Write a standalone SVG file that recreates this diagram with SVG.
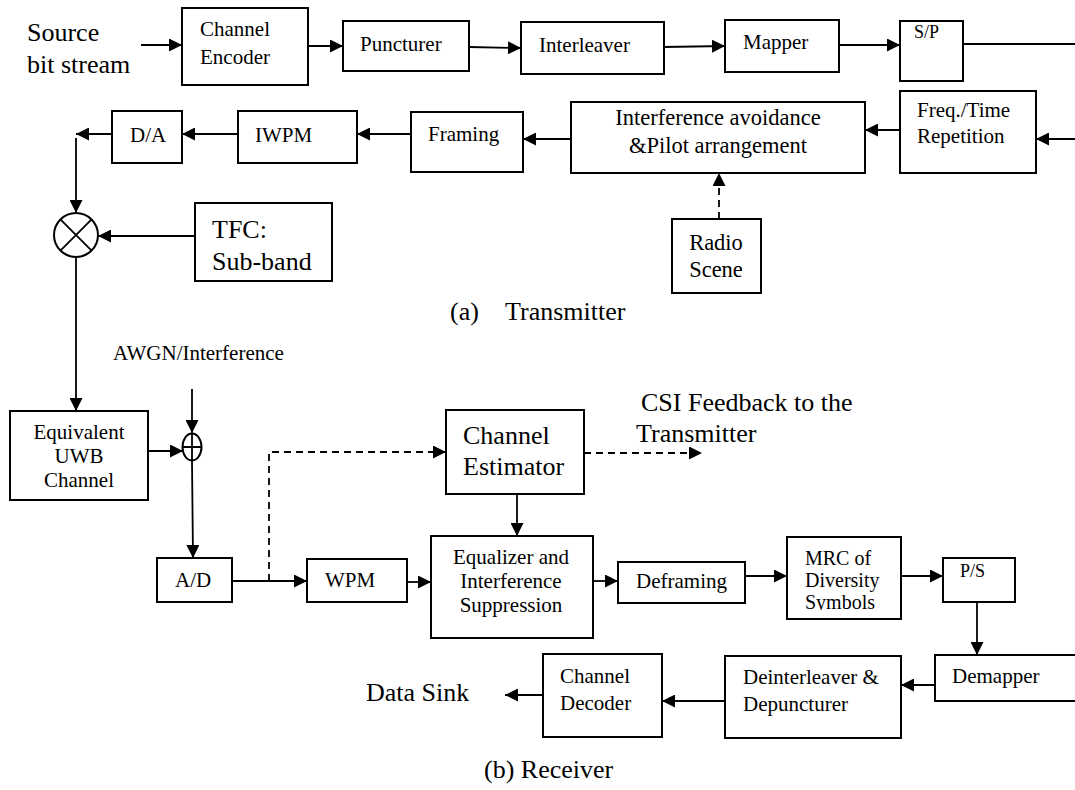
<svg xmlns="http://www.w3.org/2000/svg" width="1075" height="790" viewBox="0 0 1075 790">
<defs>
<marker id="ah" markerUnits="userSpaceOnUse" markerWidth="14" markerHeight="13" refX="13" refY="6.5" orient="auto"><path d="M0,0 L13,6.5 L0,13 z" fill="#000"/></marker>
<clipPath id="mrcclip"><rect x="788" y="538" width="112" height="72"/></clipPath>
</defs>
<style>
rect.b{fill:#fff;stroke:#000;stroke-width:2}
text{font-family:"Liberation Serif","Times New Roman",serif;fill:#000}
.f21{font-size:21px}
.f20{font-size:20px}
.f18{font-size:18px}
.f26{font-size:26px}
.f22{font-size:22.5px}
.c{text-anchor:middle}
.ln{fill:none;stroke:#000;stroke-width:1.8}
.ar{fill:none;stroke:#000;stroke-width:1.8;marker-end:url(#ah)}
.dar{fill:none;stroke:#000;stroke-width:1.8;stroke-dasharray:7,5;marker-end:url(#ah)}
</style>
<rect width="1075" height="790" fill="#fff"/>
<g id="connectors">
<path class="ar" d="M141,45 L182,45"/>
<path class="ar" d="M308,46 L343,46"/>
<path class="ar" d="M469,47 L521,48"/>
<path class="ar" d="M664,47 L725,46"/>
<path class="ar" d="M839,45 L900,45"/>
<path class="ln" d="M963,44 L1075,44"/>
<path class="ar" d="M1075,139 L1036,139"/>
<path class="ar" d="M900,130 L865,130"/>
<path class="dar" d="M719,219 L719,173"/>
<path class="ar" d="M571,139 L523,139"/>
<path class="ar" d="M411,134 L357,134"/>
<path class="ar" d="M238,134 L182,134"/>
<path class="ar" d="M112,134 L76,134"/>
<path class="ar" d="M76,138 L76,213"/>
<path class="ar" d="M195,236 L98,236"/>
<path class="ar" d="M76,257 L76,411"/>
<path class="ar" d="M192,389 L192,433"/>
<path class="ar" d="M148,451 L183,451"/>
<path class="ar" d="M192,461 L193,558"/>
<path class="ar" d="M232,581 L307,581"/>
<path class="dar" d="M269,581 L269,452 L446,452"/>
<path class="dar" d="M584,453 L702,453"/>
<path class="ar" d="M407,582 L431,582"/>
<path class="ar" d="M517,494 L517,536"/>
<path class="ar" d="M593,581 L618,581"/>
<path class="ar" d="M745,576 L787,576"/>
<path class="ar" d="M901,576 L943,576"/>
<path class="ar" d="M977,602 L977,655"/>
<path class="ar" d="M935,685 L901,685"/>
<path class="ar" d="M725,701 L662,701"/>
<path class="ar" d="M543,695 L505,695"/>
</g>
<g id="source"><text class="f26" x="27" y="41">Source</text><text class="f26" x="27" y="73">bit stream</text></g>
<g id="channel-encoder"><rect class="b" x="182" y="8" width="126" height="77"/><text class="f21" x="200" y="36">Channel</text><text class="f21" x="200" y="64">Encoder</text></g>
<g id="puncturer"><rect class="b" x="343" y="21" width="126" height="50"/><text class="f21" x="360" y="51">Puncturer</text></g>
<g id="interleaver"><rect class="b" x="521" y="22" width="143" height="52"/><text class="f21" x="539" y="52">Interleaver</text></g>
<g id="mapper"><rect class="b" x="725" y="20" width="114" height="52"/><text class="f21" x="743" y="49">Mapper</text></g>
<g id="sp"><rect class="b" x="900" y="21" width="63" height="60"/><text class="f18" x="914" y="38">S/P</text></g>
<g id="freq-time"><rect class="b" x="900" y="91" width="136" height="82"/><text class="f21" x="917" y="117">Freq./Time</text><text class="f21" x="917" y="143">Repetition</text></g>
<g id="interference-avoidance"><rect class="b" x="571" y="102" width="294" height="71"/><text class="f22 c" x="718" y="125">Interference avoidance</text><text class="f22 c" x="718" y="153">&amp;Pilot arrangement</text></g>
<g id="radio-scene"><rect class="b" x="672" y="219" width="89" height="74"/><text class="f22 c" x="716" y="250">Radio</text><text class="f22 c" x="716" y="277">Scene</text></g>
<g id="framing"><rect class="b" x="411" y="112" width="112" height="60"/><text class="f21" x="428" y="141">Framing</text></g>
<g id="iwpm"><rect class="b" x="238" y="111" width="119" height="52"/><text class="f21" x="255" y="142">IWPM</text></g>
<g id="da"><rect class="b" x="112" y="111" width="70" height="52"/><text class="f21" x="130" y="142">D/A</text></g>
<g id="mixer"><circle cx="76" cy="235" r="22" fill="#fff" stroke="#000" stroke-width="2"/><path class="ln" d="M60.4,219.4 L91.6,250.6 M91.6,219.4 L60.4,250.6"/></g>
<g id="tfc"><rect class="b" x="195" y="203" width="137" height="78"/><text class="f26" x="212" y="238">TFC:</text><text class="f26" x="212" y="270">Sub-band</text></g>
<g id="label-a"><text class="f26" x="450" y="320">(a)</text><text class="f26" x="505" y="320">Transmitter</text></g>
<g id="awgn"><text class="f21" x="113" y="360">AWGN/Interference</text></g>
<g id="equivalent-channel"><rect class="b" x="10" y="411" width="138" height="89"/><text class="f21 c" x="79" y="439">Equivalent</text><text class="f21 c" x="79" y="463">UWB</text><text class="f21 c" x="79" y="487">Channel</text></g>
<g id="adder"><ellipse cx="192" cy="447" rx="9.5" ry="13.5" fill="#fff" stroke="#000" stroke-width="2"/><path class="ln" d="M182.5,447 L201.5,447 M192,433.5 L192,460.5"/></g>
<g id="ad"><rect class="b" x="157" y="558" width="75" height="44"/><text class="f21" x="175" y="587">A/D</text></g>
<g id="wpm"><rect class="b" x="307" y="559" width="100" height="43"/><text class="f21" x="325" y="587">WPM</text></g>
<g id="channel-estimator"><rect class="b" x="446" y="410" width="138" height="84"/><text class="f26" x="463" y="444">Channel</text><text class="f26" x="463" y="475">Estimator</text></g>
<g id="csi"><text class="f26" x="641" y="411">CSI Feedback to the</text><text class="f26" x="636" y="442">Transmitter</text></g>
<g id="equalizer"><rect class="b" x="431" y="536" width="162" height="102"/><text class="f21 c" x="511" y="564">Equalizer and</text><text class="f21 c" x="511" y="588">Interference</text><text class="f21 c" x="511" y="612">Suppression</text></g>
<g id="deframing"><rect class="b" x="618" y="562" width="127" height="41"/><text class="f21" x="636" y="588">Deframing</text></g>
<g id="mrc"><rect class="b" x="787" y="537" width="114" height="82"/><g clip-path="url(#mrcclip)"><text class="f20" x="805" y="565">MRC of</text><text class="f20" x="805" y="587">Diversity</text><text class="f20" x="805" y="609">Symbols</text></g></g>
<g id="ps"><rect class="b" x="943" y="558" width="72" height="44"/><text class="f18" x="960" y="577">P/S</text></g>
<g id="demapper"><rect class="b" x="935" y="655" width="150" height="46"/><text class="f21" x="952" y="683">Demapper</text></g>
<g id="deinterleaver"><rect class="b" x="725" y="656" width="176" height="82"/><text class="f21" x="743" y="684">Deinterleaver &amp;</text><text class="f21" x="743" y="711">Depuncturer</text></g>
<g id="channel-decoder"><rect class="b" x="543" y="654" width="119" height="83"/><text class="f21" x="560" y="683">Channel</text><text class="f21" x="560" y="710">Decoder</text></g>
<g id="data-sink"><text class="f26" x="366" y="701">Data Sink</text></g>
<g id="label-b"><text class="f26" x="484" y="778">(b) Receiver</text></g>
</svg>
